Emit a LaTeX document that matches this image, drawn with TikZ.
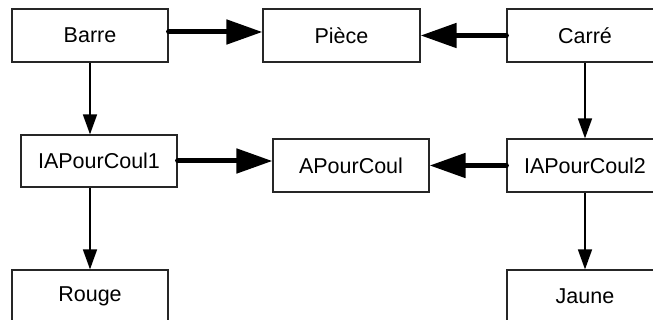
\documentclass[tikz,border=0pt]{standalone}
\usepackage{fontspec}
\setmainfont{Liberation Sans}
\usetikzlibrary{arrows.meta}
\begin{document}
\begin{tikzpicture}[x=1pt,y=-1pt,
  box/.style={draw=black!85,line width=1.2pt,minimum width=156pt,minimum height=53pt,inner sep=0pt,font=\fontsize{21.5}{24}\selectfont},
  thick arrow/.style={line width=5pt,line cap=round,-{Triangle[length=36pt,width=24pt]}},
  thin arrow/.style={line width=1.6pt,-{Triangle[length=20pt,width=14pt]}}]
\useasboundingbox (0,0) rectangle (653,320);
\clip (0,0) rectangle (653,320);
\node[box] (barre) at (90,35.5) {Barre};
\node[box,minimum width=157pt] (piece) at (341.5,35.5) {Pièce};
\node[box] (carre) at (585,35.5) {Carré};
\node[box,minimum height=52pt] (ia1) at (99,161) {IAPourCoul1};
\node[box] (apc) at (351,165.5) {APourCoul};
\node[box] (ia2) at (585,165.5) {IAPourCoul2};
\node[box] (rouge) at (90,296.5) {Rouge};
\node[box] (jaune) at (585,296.5) {Jaune};
% thick arrows
\draw[thick arrow] ([yshift=3.5pt]barre.east) -- ([yshift=3.5pt]piece.west);
\draw[thick arrow] (carre.west) -- (piece.east);
\draw[thick arrow] (ia1.east) -- (ia1.east -| apc.west);
\draw[thick arrow] (ia2.west) -- (apc.east);
% thin arrows
\draw[thin arrow] (barre.south) -- (barre.south |- ia1.north);
\draw[thin arrow] (carre.south) -- (ia2.north);
\draw[thin arrow] (ia1.south -| rouge.north) -- (rouge.north);
\draw[thin arrow] (ia2.south) -- (jaune.north);
\end{tikzpicture}
\end{document}
